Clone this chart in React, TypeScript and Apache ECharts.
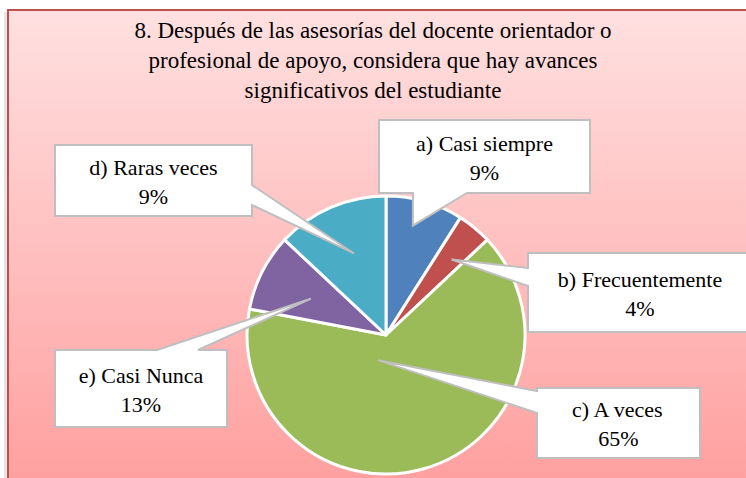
import React, { useEffect, useRef } from "react";
import * as echarts from "echarts";

const titleLines = [
  "8. Después de las asesorías del docente orientador o",
  "profesional de apoyo, considera que hay avances",
  "significativos del estudiante",
];
const categories = ["a) Casi siempre", "b) Frecuentemente", "c) A veces", "d) Raras veces", "e) Casi Nunca"];
const values = [9, 4, 65, 9, 13];
const colors = ["#4f81bd", "#c0504d", "#9bbb59", "#8064a2", "#4bacc6"];

// callout layout: box rect, wedge side & base, pointer target slice, tip angle shift / radius fraction
const callouts = [
  { box: [379, 120, 590, 193], side: "bottom", base: [413, 467], target: 0, shift: -2.4, frac: 0.81 },
  { box: [528, 253, 762, 332], side: "left", base: [268, 286], target: 1, shift: 1.4, frac: 0.72 },
  { box: [537, 388, 700, 458], side: "left", base: [391, 413], target: 2, shift: 34, frac: 0.19 },
  { box: [55, 145, 252, 216], side: "right", base: [185, 205], target: 4, shift: 2, frac: 0.63 },
  { box: [55, 350, 227, 427], side: "top", base: [157, 198], target: 3, shift: -1.2, frac: 0.6 },
];

const FONT_FAMILY = "Liberation Serif";
const CX = 386;
const CY = 335;
const R = 139;

let measureCtx: CanvasRenderingContext2D | null = null;
const measure = (text: string, size: number) => {
  if (!measureCtx) measureCtx = document.createElement("canvas").getContext("2d");
  if (!measureCtx) return text.length * size * 0.45;
  measureCtx.font = size + "px Liberation Serif";
  return measureCtx.measureText(text).width;
};

const textEl = (text: string, cx: number, cy: number, size: number) => ({
  type: "text",
  z: 100,
  x: cx - measure(text, size) / 2,
  y: cy - size / 2,
  style: {
    text,
    fontFamily: FONT_FAMILY,
    fontSize: size,
    fill: "#000",
  },
});

export default function App() {
  const ref = useRef<HTMLDivElement>(null);
  useEffect(() => {
    document.body.style.margin = "0";
    const chart = echarts.init(ref.current!, null, { renderer: "svg" });
    const total = values.reduce((a, b) => a + b, 0);
    const mids: number[] = [];
    let acc = 0;
    values.forEach((v) => {
      const span = (v / total) * 360;
      mids.push(acc + span / 2);
      acc += span;
    });
    const tipOf = (target: number, shift: number, frac: number) => {
      const a = ((mids[target] + shift) * Math.PI) / 180;
      return [CX + R * frac * Math.sin(a), CY - R * frac * Math.cos(a)];
    };
    const boxes: any[] = [];
    const texts: any[] = [];
    callouts.forEach((c, i) => {
      const [x1, y1, x2, y2] = c.box;
      const tip = tipOf(c.target, c.shift, c.frac);
      let pts: number[][] = [];
      if (c.side === "bottom") {
        pts = [[x1, y1], [x2, y1], [x2, y2], [c.base[1], y2], tip, [c.base[0], y2], [x1, y2]];
      } else if (c.side === "left") {
        pts = [[x1, y1], [x2, y1], [x2, y2], [x1, y2], [x1, c.base[1]], tip, [x1, c.base[0]]];
      } else if (c.side === "right") {
        pts = [[x1, y1], [x2, y1], [x2, c.base[0]], tip, [x2, c.base[1]], [x2, y2], [x1, y2]];
      } else {
        pts = [[x1, y1], [c.base[0], y1], tip, [c.base[1], y1], [x2, y1], [x2, y2], [x1, y2]];
      }
      boxes.push({
        type: "polygon",
        z: 10,
        shape: { points: pts },
        style: { fill: "#ffffff", stroke: "#bfbfbf", lineWidth: 2 },
      });
      const pct = Math.round((values[i] / total) * 100);
      const tx = i === 1 ? 640 : (x1 + x2) / 2;
      const cy = (y1 + y2) / 2 + 1;
      texts.push(textEl(categories[i], tx, cy - 14.5, 22));
      texts.push(textEl(pct + "%", tx, cy + 14.5, 22));
    });

    chart.setOption({
      animation: false,
      graphic: [...boxes, ...titleLines.map((t, i) => textEl(t, 373, 30 + i * 30, 23)), ...texts],
      series: [
        {
          type: "pie",
          center: [CX, CY],
          radius: R,
          startAngle: 90,
          clockwise: true,
          silent: true,
          label: { show: false },
          labelLine: { show: false },
          itemStyle: { borderColor: "#ffffff", borderWidth: 3 },
          data: values.map((v, i) => ({ name: categories[i], value: v, itemStyle: { color: colors[i] } })),
        },
      ],
    });
    return () => chart.dispose();
  }, []);
  return (
    <div style={{ position: "relative", width: 746, height: 478, overflow: "hidden", background: "#ffffff" }}>
      <div
        style={{
          position: "absolute",
          left: 4,
          top: 12,
          width: 6,
          height: 480,
          background: "#e4e4e4",
        }}
      />
      <div
        style={{
          position: "absolute",
          left: 7,
          top: 9,
          width: 770,
          height: 500,
          boxSizing: "border-box",
          border: "2.5px solid #c0504d",
          background: "linear-gradient(to bottom, #ffe0e0 0%, #ff9c9c 100%)",
        }}
      />
      <div ref={ref} style={{ position: "absolute", left: 0, top: 0, width: 746, height: 478 }} />
    </div>
  );
}
